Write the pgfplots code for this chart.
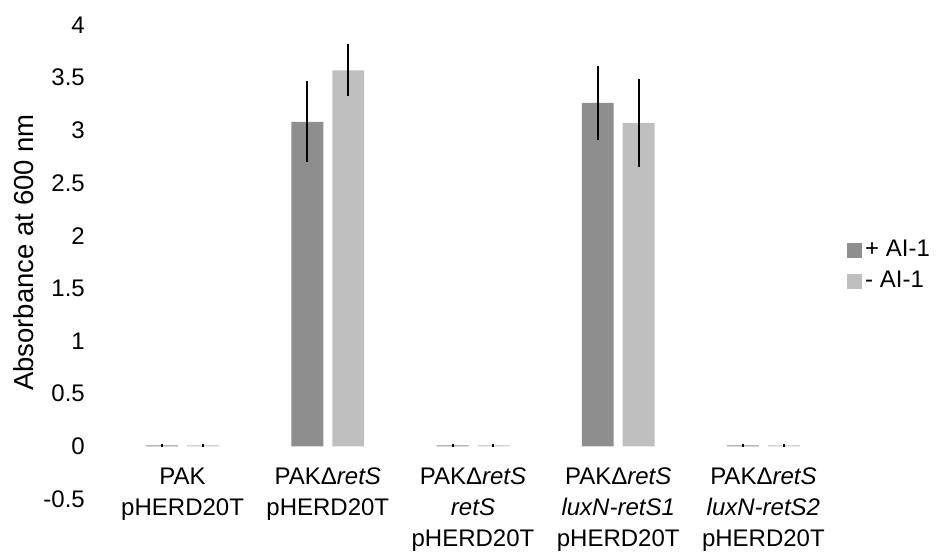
\documentclass[border=0pt]{standalone}
\usepackage{fontspec}
\setmainfont{Liberation Sans}
\usepackage{pgfplots}
\pgfplotsset{compat=1.18}
\definecolor{darkbar}{RGB}{142,142,142}
\definecolor{lightbar}{RGB}{191,191,191}
\begin{document}
\fontsize{24bp}{29bp}\selectfont
\begin{tikzpicture}
\path[use as bounding box] (-110bp,-55bp) rectangle (827bp,499bp);
\begin{axis}[
  scale only axis, width=726bp, height=474bp,
  at={(0,0)}, anchor=south west,
  xmin=-0.5, xmax=4.5, ymin=-0.5, ymax=4,
  axis line style={draw=none},
  major tick length=0pt,
  font=\fontsize{24bp}{29bp}\selectfont,
  ytick={-0.5,0,0.5,1,1.5,2,2.5,3,3.5,4},
  yticklabels={-0.5,0,0.5,1,1.5,2,2.5,3,3.5,4},
  yticklabel style={anchor=east, inner sep=0pt, xshift=-25bp, font=\fontsize{24bp}{29bp}\selectfont},
  xtick={0,1,2,3,4},
  xticklabels={{PAK\\pHERD20T},{PAKΔ\textit{retS}\\pHERD20T},{PAKΔ\textit{retS}\\\textit{retS}\\pHERD20T},{PAKΔ\textit{retS}\\\textit{luxN-retS1}\\pHERD20T},{PAKΔ\textit{retS}\\\textit{luxN-retS2}\\pHERD20T}},
  xticklabel style={align=center, anchor=north, inner sep=0pt, yshift=31bp, font=\fontsize{24bp}{31bp}\selectfont},
  every axis y label/.style={at={(axis description cs:-0.1185,0.52)}, rotate=90, anchor=center, font=\fontsize{27.5bp}{30bp}\selectfont},
  ylabel={Absorbance at 600 nm},
  legend style={draw=none, fill=none, at={(axis description cs:1.0145,0.4916)}, anchor=west, inner sep=0pt, row sep=11bp, nodes={inner ysep=0pt, inner xsep=3.5bp}, font=\fontsize{24bp}{29bp}\selectfont},
  legend cell align=left,
  ybar, bar width=0.22,
  error bars/error bar style={line width=2bp, black},
]
\addplot[ybar, bar shift=-0.141, fill=darkbar, draw=none,
  legend image code/.code={\fill[darkbar] (0bp,-7.5bp) rectangle (15bp,7.5bp);},
  error bars/.cd, y dir=both, y explicit, error mark=none]
  coordinates {(0,0.01) +- (0,0.015) (1,3.08) +- (0,0.385) (2,0.01) +- (0,0.015) (3,3.26) +- (0,0.35) (4,0.01) +- (0,0.015)};
\addlegendentry{+ AI-1}
\addplot[ybar, bar shift=0.141, fill=lightbar, draw=none,
  legend image code/.code={\fill[lightbar] (0bp,-7.5bp) rectangle (15bp,7.5bp);},
  error bars/.cd, y dir=both, y explicit, error mark=none]
  coordinates {(0,0.01) +- (0,0.015) (1,3.57) +- (0,0.245) (2,0.01) +- (0,0.015) (3,3.07) +- (0,0.42) (4,0.01) +- (0,0.015)};
\addlegendentry{- AI-1}
\end{axis}
\end{tikzpicture}
\end{document}
